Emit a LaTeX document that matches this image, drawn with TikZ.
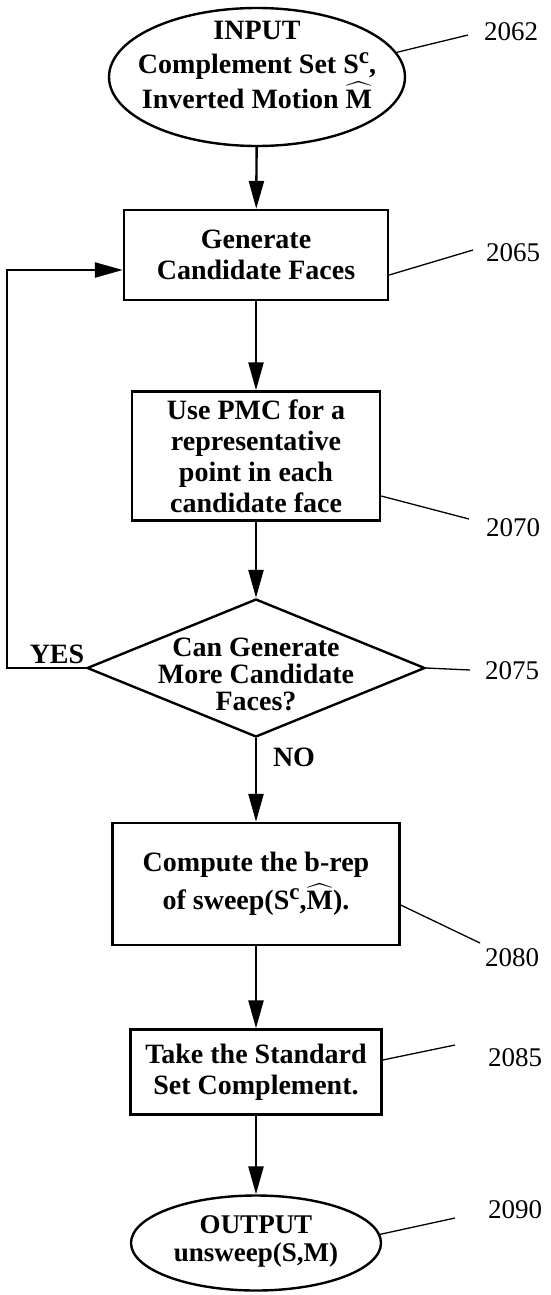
\documentclass[tikz,border=0pt]{standalone}
\usepackage{amsmath}
\usepackage{fontspec}
\setmainfont{Liberation Serif}
\usepackage{tikz}
\usetikzlibrary{shapes.geometric,arrows.meta}

\newcommand{\flowfont}{\fontsize{28}{31}\selectfont\bfseries}
\newcommand{\refnumfont}{\fontsize{27}{29}\selectfont}
\newcommand{\supc}{\raisebox{0.36em}{\fontsize{23}{23}\selectfont\bfseries c}}

\begin{document}
\begin{tikzpicture}[x=1pt, y=-1pt,
  stepbox/.style={rectangle, draw, line width=2.4pt, inner sep=0pt, align=center, font=\flowfont},
  terminal/.style={ellipse, draw, line width=2.4pt, inner sep=0pt},
  decision/.style={diamond, draw, line width=2.4pt, inner sep=0pt},
  txt/.style={align=center, font=\flowfont},
  refnum/.style={font=\refnumfont, inner sep=0pt},
  arrow/.style={-{Triangle[length=28pt,width=15pt]}, line width=2.4pt},
  leader/.style={line width=1.3pt}
]
\useasboundingbox (0,0) rectangle (551,1295);

% Flow chart
\node[terminal, minimum width=296pt, minimum height=138pt,
  label={[txt, yshift=12pt]center:{INPUT\\[3pt]Complement Set S\supc,\\[1pt]Inverted Motion $\widehat{\text{M}}$}}] (inp) at (257,77) {};
\node[stepbox, minimum width=264pt, minimum height=90pt] (gen) at (256,255) {Generate\\Candidate Faces};
\node[stepbox, minimum width=248pt, minimum height=129pt] (pmc) at (256,456) {Use PMC for a\\representative\\point in each\\candidate face};
\node[decision, minimum width=338pt, minimum height=138pt,
  label={[txt, font=\fontsize{28}{27}\selectfont\bfseries, yshift=-6pt]center:{Can Generate\\More Candidate\\Faces?}}] (more) at (256,668) {};
\node[stepbox, minimum width=287pt, minimum height=122pt] (comp) at (256,884) {Compute the b-rep\\[5pt]of sweep(S\supc,$\widehat{\text{M}}$).};
\node[stepbox, minimum width=251pt, minimum height=85pt] (take) at (256,1072) {Take the Standard\\Set Complement.};
\node[terminal, minimum width=250pt, minimum height=95pt,
  label={[txt, font=\fontsize{27}{28}\selectfont\bfseries, yshift=2pt]center:{OUTPUT\\unsweep(S,M)}}] (out) at (256,1243) {};

% Connections
\draw[arrow] (inp) -- (gen);
\draw[arrow] (gen) -- (pmc);
\draw[arrow] (pmc) -- (more);
\draw[arrow] (more) -- (comp);
\draw[arrow] (comp) -- (take);
\draw[arrow] (take) -- (out);

% Loop back
\coordinate (loopa) at (7,668);
\coordinate (loopb) at (7,270);
\draw[arrow] (more.west) -- (loopa) -- (loopb) -- (loopb -| gen.west);
\node[txt] (yes) at (57,654) {YES};
\node[txt] (no) at (294,757) {NO};

% Reference numerals
\node[refnum] (n2062) at (511,32) {2062};
\node[refnum] (n2065) at (513,253) {2065};
\node[refnum] (n2070) at (513,528) {2070};
\node[refnum] (n2075) at (512,671) {2075};
\node[refnum] (n2080) at (512,958) {2080};
\node[refnum] (n2085) at (515,1058) {2085};
\node[refnum] (n2090) at (515,1210) {2090};
\coordinate (e2062) at (468,35);
\coordinate (e2065) at (473,250);
\coordinate (e2070) at (469,519);
\coordinate (e2075) at (470,670);
\coordinate (e2080) at (480,943);
\coordinate (e2085) at (455,1045);
\coordinate (e2090) at (455,1218);
\draw[leader] (inp.10) -- (e2062);
\draw[leader] ([yshift=-20pt]gen.east) -- (e2065);
\draw[leader] ([yshift=-40pt]pmc.east) -- (e2070);
\draw[leader] (more.east) -- (e2075);
\draw[leader] ([yshift=-21pt]comp.east) -- (e2080);
\draw[leader] ([yshift=12pt]take.east) -- (e2085);
\draw[leader] (out.4) -- (e2090);

\end{tikzpicture}
\end{document}
